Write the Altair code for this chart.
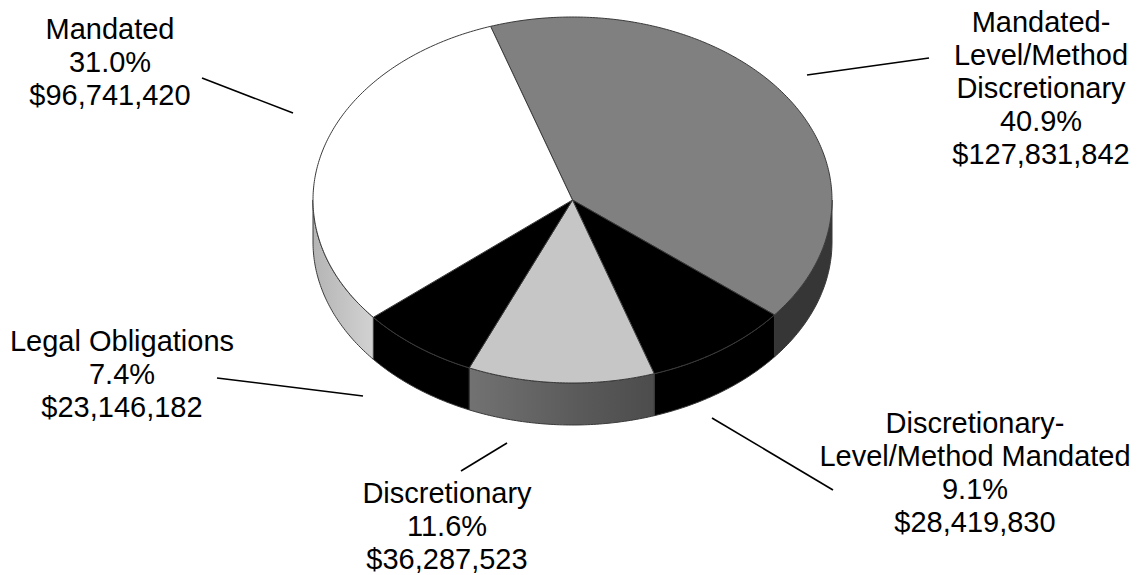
import math
import numpy as np
import pandas as pd
import altair as alt

# ---- data -------------------------------------------------------------
categories = [
    "Mandated-Level/Method Discretionary",
    "Discretionary-Level/Method Mandated",
    "Discretionary",
    "Legal Obligations",
    "Mandated",
]
label_lines = [
    ["Mandated-", "Level/Method", "Discretionary"],
    ["Discretionary-", "Level/Method Mandated"],
    ["Discretionary"],
    ["Legal Obligations"],
    ["Mandated"],
]
amounts = [127831842, 28419830, 36287523, 23146182, 96741420]

# ---- styling ----------------------------------------------------------
top_colors = ["#808080", "#000000", "#c6c6c6", "#000000", "#ffffff"]
side_fills = [
    "#363636",
    "#000000",
    alt.Gradient(gradient="linear", x1=0, x2=1, y1=0, y2=0,
                 stops=[alt.GradientStop(color="#727272", offset=0),
                        alt.GradientStop(color="#5a5a5a", offset=0.6),
                        alt.GradientStop(color="#4c4c4c", offset=1)]),
    "#000000",
    alt.Gradient(gradient="linear", x1=0, x2=1, y1=0, y2=0,
                 stops=[alt.GradientStop(color="#b4b4b4", offset=0),
                        alt.GradientStop(color="#d2d2d2", offset=1)]),
]
OUTLINE = "#3a3a3a"
FONT = "Liberation Sans"
FONT_SIZE = 29
LINE_H = 33

# ---- layout of the tilted pie (pixel space) ---------------------------
W, H = 1140, 575
CX, CY = 572.5, 200.0
RX, RY = 259.5, 183.0
DEPTH = 42.0
START_DEG = -18.4

# label anchors (centre x, first baseline y) and leader-line segments
label_pos = [(1041, 32), (975, 433), (447, 503), (122, 351), (110, 39)]
leader_segs = [
    ((807, 75), (929, 58)),
    ((712, 418), (833, 490)),
    ((507, 443), (461, 471)),
    ((217, 378), (363, 396)),
    ((202, 78), (293, 113)),
]

total = float(sum(amounts))
fractions = [a / total for a in amounts]


def rim(t_deg, drop=0.0):
    t = math.radians(t_deg)
    return CX + RX * math.sin(t), CY - RY * math.cos(t) + drop


def arc(t0, t1, drop=0.0):
    n = max(8, int(abs(t1 - t0) * 1.5))
    return [rim(t, drop) for t in np.linspace(t0, t1, n)]


tops, sides = [], []
t = START_DEG
for i, f in enumerate(fractions):
    t0, t1 = t, t + 360.0 * f
    t = t1
    pts = [(CX, CY)] + arc(t0, t1) + [(CX, CY)]
    tops.append(pd.DataFrame({"x": [p[0] for p in pts], "y": [p[1] for p in pts],
                              "k": range(len(pts))}))
    lo, hi = max(t0, 90.0), min(t1, 270.0)
    if lo < hi:
        pts = arc(lo, hi) + arc(hi, lo, DEPTH)
        pts.append(pts[0])
        sides.append((i, pd.DataFrame({"x": [p[0] for p in pts], "y": [p[1] for p in pts],
                                       "k": range(len(pts))})))

xs = alt.Scale(domain=[0, W], nice=False, zero=False)
ys = alt.Scale(domain=[H, 0], nice=False, zero=False)


def poly(df, fill):
    return alt.Chart(df).mark_line(fill=fill, stroke=OUTLINE, strokeWidth=1,
                                   strokeJoin="round").encode(
        x=alt.X("x:Q", scale=xs, axis=None),
        y=alt.Y("y:Q", scale=ys, axis=None),
        order="k:Q",
    )


layers = []
for i, df in sides:
    layers.append(poly(df, side_fills[i]))
for i, df in enumerate(tops):
    layers.append(poly(df, top_colors[i]))

# leader lines
lead_df = pd.DataFrame({
    "x": [s[0][0] for s in leader_segs], "y": [s[0][1] for s in leader_segs],
    "x2": [s[1][0] for s in leader_segs], "y2": [s[1][1] for s in leader_segs],
})
layers.append(alt.Chart(lead_df).mark_rule(color="#000000", strokeWidth=1.6).encode(
    x=alt.X("x:Q", scale=xs, axis=None), y=alt.Y("y:Q", scale=ys, axis=None),
    x2="x2:Q", y2="y2:Q"))

# data labels: name, share and amount
texts = []
for i, amt in enumerate(amounts):
    lines = label_lines[i] + [f"{100 * fractions[i]:.1f}%", f"${amt:,}"]
    texts.append("\n".join(lines))
lab_df = pd.DataFrame({
    "category": categories,
    "text": texts,
    "x": [p[0] for p in label_pos],
    "y": [p[1] for p in label_pos],
})
layers.append(alt.Chart(lab_df).mark_text(
    font=FONT, fontSize=FONT_SIZE, lineHeight=LINE_H, lineBreak="\n",
    align="center", baseline="alphabetic", color="#000000").encode(
    x=alt.X("x:Q", scale=xs, axis=None), y=alt.Y("y:Q", scale=ys, axis=None),
    text="text:N"))

chart = alt.layer(*layers).properties(
    width=W, height=H, padding=0,
    autosize=alt.AutoSizeParams(type="none"),
    background="#ffffff",
).configure_view(stroke=None)

chart.save("out.html", embed_options={"renderer": "svg", "actions": False})
